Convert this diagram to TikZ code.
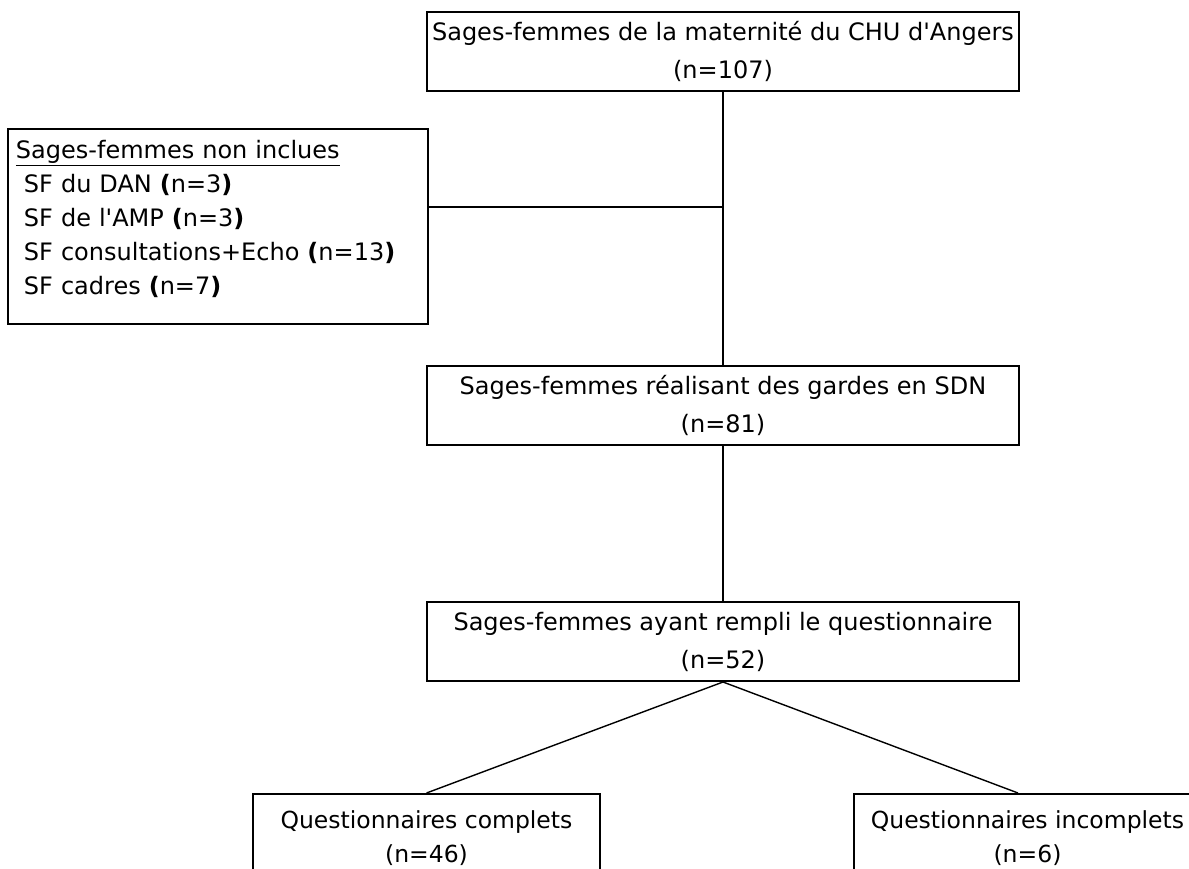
\documentclass[tikz,border=0pt]{standalone}
\usepackage{fontspec}
\setmainfont{DejaVu Sans}
\usetikzlibrary{positioning}
\begin{document}
\begin{tikzpicture}[
        x=1pt, y=-1pt,
        every node/.style={font=\fontsize{24}{38}\selectfont},
        box/.style={draw, line width=2pt, align=center, minimum width=592pt, minimum height=79pt, inner sep=0pt},
        smallbox/.style={box, minimum width=347pt, minimum height=89pt, font=\fontsize{23.5}{34}\selectfont},
        excl/.style={draw, line width=2pt, align=left, text width=404pt, minimum height=195pt, inner xsep=8pt, inner ysep=0pt,
          text height=18pt, text depth=153pt, font=\fontsize{24}{34}\selectfont},
        link/.style={line width=1.4pt}
      ]
      \useasboundingbox (0,0) rectangle (1189,869);
      \clip (0,0) rectangle (1189,869);
      \node[box] (all) at (723,51.5) {Sages-femmes de la maternité du CHU d\textquotesingle Angers \\ (n=107)};
      \node[excl] (excl) at (218,226.5) {\underline{Sages-femmes non inclues} \\
        \ SF du DAN \textbf{(}n=3\textbf{)} \\
        \ SF de l\textquotesingle AMP \textbf{(}n=3\textbf{)} \\
        \ SF consultations+Echo \textbf{(}n=13\textbf{)} \\
        \ SF cadres \textbf{(}n=7\textbf{)}};
      \node[box, below=273pt of all] (sdn) {Sages-femmes réalisant des gardes en SDN \\ (n=81)};
      \node[box, below=155pt of sdn] (quest) {Sages-femmes ayant rempli le questionnaire \\ (n=52)};
      \node[smallbox, anchor=north] (complete) at (426.5,793) {Questionnaires complets \\ (n=46)};
      \node[smallbox, anchor=north] (incomplete) at (1027.5,793) {Questionnaires incomplets \\ (n=6)};
      % connectors
      \coordinate (split) at (all.south |- 0,207);
      \coordinate (inctop) at (1018,793);
      \draw[link] (all) -- (sdn);
      \draw[link] (excl.east |- split) -- (split);
      \draw[link] (sdn) -- (quest);
      \draw[link] (quest.south) -- (complete.north);
      \draw[link] (quest.south) -- (inctop);
\end{tikzpicture}
\end{document}
